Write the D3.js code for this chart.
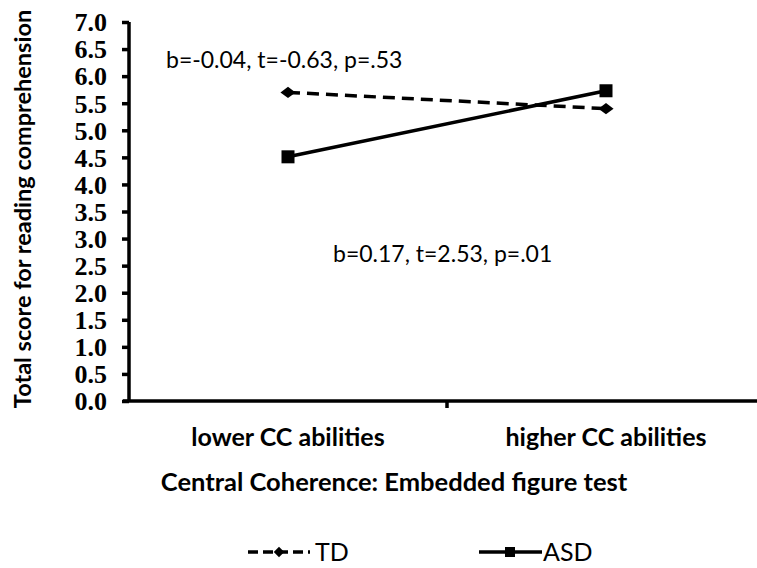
<!DOCTYPE html>
<html>
<head>
<meta charset="utf-8">
<script src="https://cdn.jsdelivr.net/npm/d3@7"></script>
<style>
  body { margin: 0; background: #fff; }
  svg { display: block; }
</style>
</head>
<body>
<div class="chart"></div>
<script>
// data
let categories = ["lower CC abilities", "higher CC abilities"]
let tdValues = [5.70, 5.40]
let asdValues = [4.51, 5.73]
let yTicks = [0, 0.5, 1, 1.5, 2, 2.5, 3, 3.5, 4, 4.5, 5, 5.5, 6, 6.5, 7]
let notes = ["b=-0.04, t=-0.63, p=.53", "b=0.17, t=2.53, p=.01"]
let noteValues = [6.15, 2.57]

let width = 757, height = 568
let plotLeft = 129, plotRight = 765, plotTop = 22, plotBottom = 401
let sans = "Lato, 'Open Sans', sans-serif"

let svg = d3.select(".chart").append("svg")
    .attr("width", width)
    .attr("height", height)

let x = d3.scaleBand().domain(categories).range([plotLeft, plotRight]).padding(0)
let y = d3.scaleLinear().domain([0, 7]).range([plotBottom, plotTop])

// y axis
let yAxis = svg.append("g").attr("transform", `translate(${plotLeft},0)`)
    .call(d3.axisLeft(y).tickValues(yTicks).tickSize(7).tickFormat(d3.format(".1f")))
yAxis.select(".domain").attr("stroke", "#000").attr("stroke-width", 3.5)
    .attr("d", `M0,${plotTop}V${plotBottom}`)
yAxis.selectAll(".tick line").attr("stroke-width", 3.5)
yAxis.selectAll(".tick text")
    .attr("x", -22)
    .attr("dy", "0.34em")
    .attr("font-family", "'Liberation Serif', 'Times New Roman', serif")
    .attr("font-weight", "bold")
    .attr("font-size", 26)
    .attr("fill", "#000")

// x axis
let xAxis = svg.append("g").attr("transform", `translate(0,${plotBottom})`)
xAxis.append("line")
    .attr("x1", plotLeft - 6).attr("x2", plotRight)
    .attr("stroke", "#000").attr("stroke-width", 3.5)
xAxis.selectAll(".xtick")
    .data(categories.slice(1))
    .enter()
    .append("line")
    .attr("x1", d => x(d)).attr("x2", d => x(d))
    .attr("y1", 0).attr("y2", 7)
    .attr("stroke", "#000").attr("stroke-width", 3.5)
xAxis.selectAll(".xlabel")
    .data(categories)
    .enter()
    .append("text")
    .attr("x", d => x(d) + x.bandwidth() / 2)
    .attr("y", 45)
    .attr("text-anchor", "middle")
    .attr("font-family", sans)
    .attr("font-weight", "bold")
    .attr("font-size", 25)
    .text(d => d)

// axis titles
svg.append("text")
    .attr("x", 394).attr("y", 491)
    .attr("text-anchor", "middle")
    .attr("font-family", sans)
    .attr("font-weight", "bold")
    .attr("font-size", 25.5)
    .text("Central Coherence: Embedded figure test")
svg.append("text")
    .attr("transform", "translate(31,209) rotate(-90)")
    .attr("text-anchor", "middle")
    .attr("font-family", sans)
    .attr("font-weight", "bold")
    .attr("font-size", 23.5)
    .text("Total score for reading comprehension")

// annotations
svg.selectAll(".note")
    .data(notes)
    .enter()
    .append("text")
    .attr("x", (d, i) => i == 0 ? 166 : 333)
    .attr("y", (d, i) => y(noteValues[i]))
    .attr("font-family", sans)
    .attr("font-size", 23)
    .text(d => d)

let cx = d => x(d) + x.bandwidth() / 2
let line = d3.line().x(d => cx(d[0])).y(d => y(d[1]))

// TD series (dashed, diamonds)
let td = categories.map((c, i) => [c, tdValues[i]])
svg.append("path")
    .datum(td)
    .attr("d", line)
    .attr("fill", "none")
    .attr("stroke", "#000")
    .attr("stroke-width", 3.5)
    .attr("stroke-dasharray", "12,7")
svg.selectAll(".tdmark")
    .data(td)
    .enter()
    .append("path")
    .attr("d", d3.symbol(d3.symbolDiamond2, 110))
    .attr("transform", d => `translate(${cx(d[0])},${y(d[1])}) scale(1.15,0.85)`)
    .attr("fill", "#000")

// ASD series (solid, squares)
let asd = categories.map((c, i) => [c, asdValues[i]])
svg.append("path")
    .datum(asd)
    .attr("d", line)
    .attr("fill", "none")
    .attr("stroke", "#000")
    .attr("stroke-width", 3.5)
svg.selectAll(".asdmark")
    .data(asd)
    .enter()
    .append("rect")
    .attr("x", d => cx(d[0]) - 6.5)
    .attr("y", d => y(d[1]) - 6.5)
    .attr("width", 13).attr("height", 13)
    .attr("fill", "#000")

// legend
let legend = svg.append("g").attr("transform", "translate(0,552)")
legend.append("path")
    .attr("d", "M248,0H310")
    .attr("stroke", "#000").attr("stroke-width", 3.5)
    .attr("stroke-dasharray", "10,5")
legend.append("path")
    .attr("d", d3.symbol(d3.symbolDiamond2, 70))
    .attr("transform", "translate(279,0)")
legend.append("text")
    .attr("x", 315).attr("y", 9)
    .attr("font-family", sans).attr("font-size", 25)
    .text("TD")
legend.append("path")
    .attr("d", "M479,0H542")
    .attr("stroke", "#000").attr("stroke-width", 3.5)
legend.append("rect")
    .attr("x", 505).attr("y", -5).attr("width", 10).attr("height", 10)
legend.append("text")
    .attr("x", 543).attr("y", 9)
    .attr("font-family", sans).attr("font-size", 25)
    .text("ASD")
</script>
</body>
</html>
